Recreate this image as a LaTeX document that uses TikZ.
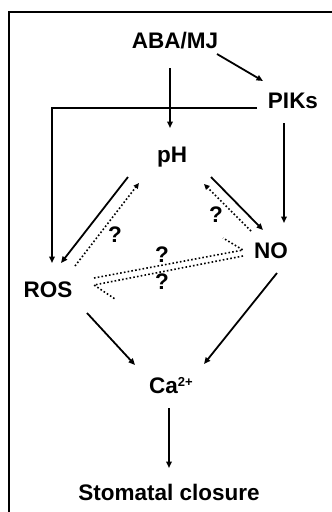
\documentclass[tikz,border=0pt]{standalone}
\usepackage{fontspec}
\setmainfont{Liberation Sans}
\usetikzlibrary{arrows.meta}
\tikzset{
  lbl/.style={inner sep=0pt, anchor=base, font=\fontsize{22.5}{27}\selectfont\bfseries},
  qm/.style={inner sep=0pt, anchor=center, font=\fontsize{22.5}{27}\selectfont\bfseries},
  arr/.style={line width=1.8pt, -{Triangle[length=6.5pt,width=5.5pt]}},
  dotline/.style={line width=1.6pt, dash pattern=on 1.6pt off 2.2pt},
  darr/.style={dotline, -{Triangle[length=5.5pt,width=5pt]}},
  frame/.style={line width=2pt}
}
\begin{document}
\begin{tikzpicture}[x=1pt,y=-1pt]
\useasboundingbox (0,0) rectangle (332,512);
\draw[frame] (9,512) -- (9,12) -- (332,12);

\node[lbl] (aba) at (175,48) {ABA/MJ};
\node[lbl] (pikes) at (293,108) {PIKs};
\node[lbl] (ph) at (172,162) {pH};
\node[lbl] (ros) at (48,297) {ROS};
\node[lbl] (no) at (271,258) {NO};
\node[lbl] (ca) at (171,393) {Ca\raisebox{7pt}{\fontsize{13}{13}\selectfont 2+}};
\node[lbl] (sc) at (169,500) {Stomatal closure};

\node[qm] (q1) at (115,235) {?};
\node[qm] (q2) at (216,215) {?};
\node[qm] (q3) at (162,255) {?};
\node[qm] (q4) at (162,282) {?};

% solid arrows
\draw[arr] ([shift={(-5pt,-20pt)}]aba.base) -- ([shift={(-2pt,34pt)}]ph.base);
\draw[arr] ([shift={(42pt,-6pt)}]aba.base) -- ([shift={(-30pt,27pt)}]pikes.base);
\draw[arr] ([shift={(-36pt,0pt)}]pikes.base) -| ([shift={(4pt,34pt)}]ros.base);
\draw[arr] ([shift={(-9pt,-15pt)}]pikes.base) -- ([shift={(13pt,35pt)}]no.base);
\draw[arr] ([shift={(-44pt,-15pt)}]ph.base) -- ([shift={(13pt,34pt)}]ros.base);
\draw[arr] ([shift={(39pt,-15pt)}]ph.base) -- ([shift={(-8pt,28pt)}]no.base);
\draw[arr] ([shift={(39pt,-16pt)}]ros.base) -- ([shift={(-36pt,28pt)}]ca.base);
\draw[arr] ([shift={(6pt,-15pt)}]no.base) -- ([shift={(33pt,29pt)}]ca.base);
\draw[arr] ([shift={(-2pt,-15pt)}]ca.base) -- ([shift={(0pt,32pt)}]sc.base);

% dotted arrows
\draw[darr] ([shift={(27pt,31pt)}]ros.base) -- ([shift={(-33pt,-21pt)}]ph.base);
\draw[darr] ([shift={(-20pt,27pt)}]no.base) -- ([shift={(32pt,-22pt)}]ph.base);

% double dotted harpoons between ROS and NO
\draw[dotline] ([shift={(46pt,19pt)}]ros.base) -- ([shift={(-28pt,8pt)}]no.base) -- ++(-20pt,12pt);
\draw[dotline] ([shift={(-28pt,2pt)}]no.base) -- ([shift={(46pt,12pt)}]ros.base) -- ++(21pt,-14pt);
\end{tikzpicture}
\end{document}
